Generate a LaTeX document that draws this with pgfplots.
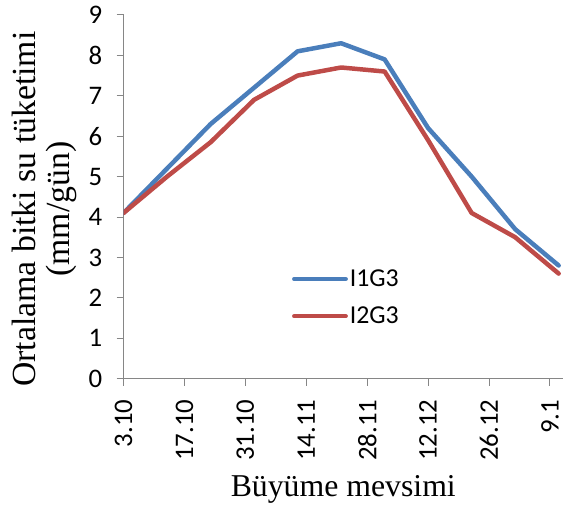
\documentclass[border=0pt]{standalone}
\usepackage{fontspec}
\setmainfont{Liberation Serif}
\newfontfamily\carlito{Carlito}
\usepackage{pgfplots}
\pgfplotsset{compat=1.18}
\definecolor{sblue}{HTML}{4A7EBB}
\definecolor{sred}{HTML}{BE4B48}
\definecolor{axgray}{HTML}{868686}
\begin{document}
\begin{tikzpicture}
\begin{axis}[
  name=ax,
  scale only axis, width=441bp, height=365bp,
  xmin=0, xmax=101, ymin=0, ymax=9,
  axis lines*=left,
  axis line style={axgray, line width=1bp},
  xtick={0,14,28,42,56,70,84,98},
  xticklabels={3.10,17.10,31.10,14.11,28.11,12.12,26.12,9.1},
  ytick={0,1,...,9},
  tick style={axgray, line width=1bp},
  tick align=outside, major tick length=7bp,
  /pgf/number format/assume math mode=true,
  x tick label style={rotate=90, anchor=east, inner sep=1bp, font=\carlito\fontsize{27}{27}\selectfont},
  y tick label style={font=\carlito\fontsize{27}{27}\selectfont},
  xticklabel shift=13bp,
  yticklabel shift=11bp,
  xlabel={Büyüme mevsimi},
  xlabel style={font=\fontsize{32}{34}\selectfont, at={(axis description cs:0.5,-0.323)}, anchor=base},
  ylabel={Ortalama bitki su tüketimi\\(mm/gün)},
  ylabel style={align=center, font=\fontsize{34}{35}\selectfont, at={(axis description cs:-0.18,0.466)}, anchor=center},
  legend style={draw=none, fill=none, at={(rel axis cs:0.383,0.305)}, anchor=north west,
    font=\carlito\fontsize{26}{26}\selectfont, row sep=15bp, inner sep=0pt},
  legend cell align=left,
  legend image code/.code={\draw[#1, line width=4bp, line cap=round] (0bp,0bp) -- (52bp,0bp);},
]
\addplot[sblue, line width=4.5bp, line join=round, line cap=round] coordinates {
(0,4.1) (10,5.2) (20,6.3) (30,7.2) (40,8.1) (50,8.3) (60,7.9) (70,6.2) (80,5.0) (90,3.7) (100,2.8)};
\addlegendentry{I1G3}
\addplot[sred, line width=4.5bp, line join=round, line cap=round] coordinates {
(0,4.1) (10,5.0) (20,5.85) (30,6.9) (40,7.5) (50,7.7) (60,7.6) (70,5.9) (80,4.1) (90,3.5) (100,2.6)};
\addlegendentry{I2G3}
\end{axis}
\pgfresetboundingbox
\path ([shift={(-124bp,-128bp)}]ax.south west) rectangle ([shift={(4bp,15bp)}]ax.north east);
\end{tikzpicture}
\end{document}
